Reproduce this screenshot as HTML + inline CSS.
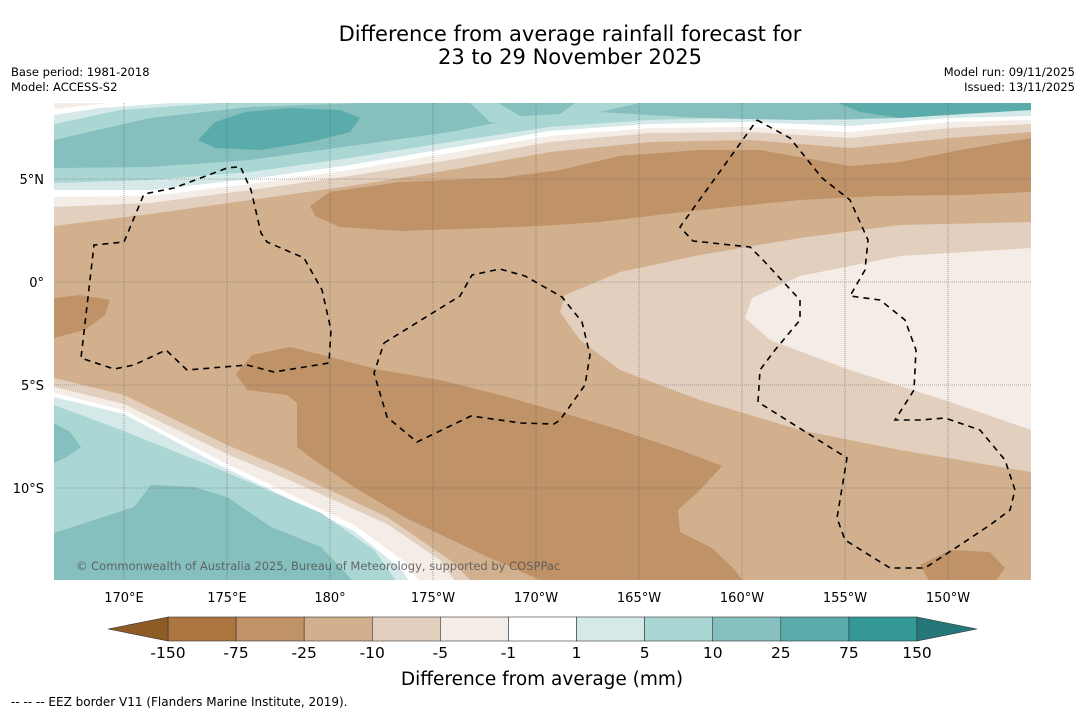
<!DOCTYPE html>
<html><head><meta charset="utf-8"><style>
html,body{margin:0;padding:0;background:#fff;}
body{width:1085px;height:713px;overflow:hidden;font-family:"DejaVu Sans","Liberation Sans",sans-serif;}
svg text{font-family:"DejaVu Sans","Liberation Sans",sans-serif;}
</style></head><body>
<svg id="fig" width="1085" height="713" viewBox="0 0 1085 713" xmlns="http://www.w3.org/2000/svg">
<text x="570" y="41" font-size="21" text-anchor="middle">Difference from average rainfall forecast for</text>
<text x="570" y="64" font-size="21" text-anchor="middle">23 to 29 November 2025</text>
<text x="11" y="76" font-size="11.5">Base period: 1981-2018</text>
<text x="11" y="91" font-size="11.5">Model: ACCESS-S2</text>
<text x="1075" y="76" font-size="11.5" text-anchor="end">Model run: 09/11/2025</text>
<text x="1075" y="91" font-size="11.5" text-anchor="end">Issued: 13/11/2025</text>

<defs><clipPath id="mapclip"><rect x="54" y="103" width="977" height="477"/></clipPath></defs>
<g id="map" clip-path="url(#mapclip)">
<rect x="54" y="103" width="977" height="477" fill="#d2b08e"/>
<path fill="#e3cfbd" d="M1031,222 L900,225 L800,238 L700,255 L620,272 L565,295 L560,312 L580,340 L620,370 L700,400 L800,430 L900,450 L1031,472 Z"/>
<path fill="#f4ece6" d="M1031,248 L900,256 L800,276 L752,298 L745,318 L770,340 L850,370 L950,402 L1031,430 Z"/>
<path fill="#bf9268" d="M310,206 L330,192 L400,182 L500,178 L560,170 L620,156 L700,150 L760,150 L850,166 L900,162 L960,150 L1031,138 L1031,192 L960,195 L880,196 L800,200 L700,210 L600,222 L540,226 L460,229 L400,231 L340,227 L315,216 Z"/>
<path fill="#bf9268" d="M236,374 L252,355 L290,347 L330,357 L380,370 L440,380 L500,395 L560,412 L620,430 L680,450 L722,466 L700,490 L678,510 L680,532 L712,548 L735,570 L742,580 L540,580 L490,558 L437,533 L404,517 L354,487 L314,460 L297,447 L297,403 L287,395 L247,390 Z"/>
<path fill="#bf9268" d="M54,298 L80,295 L110,300 L105,315 L85,330 L54,338 Z"/>
<path fill="#bf9268" d="M920,565 L950,550 L990,552 L1005,568 L995,582 L930,582 Z"/>
<path fill="#e3cfbd" d="M54,103 L1031,103 L1031,132 L950,138 L850,148 L750,140 L650,142 L550,152 L450,170 L350,186 L250,200 L150,214 L54,226 Z"/>
<path fill="#f4ece6" d="M54,103 L1031,103 L1031,124 L950,128 L850,138 L750,132 L650,133 L550,142 L450,160 L350,176 L250,190 L150,203 L54,207 Z"/>
<path fill="#ffffff" d="M54,103 L1031,103 L1031,120 L950,122 L850,132 L750,127 L650,128 L550,136 L450,153 L350,170 L250,184 L150,196 L54,197 Z"/>
<path fill="#d5eae8" d="M54,103 L1031,103 L1031,116 L950,118 L850,126 L750,122 L650,124 L550,131 L450,148 L350,165 L250,179 L150,190 L54,190 Z"/>
<path fill="#aad6d4" d="M54,103 L1031,103 L1031,110 L950,112 L850,120 L750,117 L650,120 L550,127 L450,142 L350,158 L250,172 L150,180 L54,183 Z"/>
<path fill="#85bfbe" d="M54,103 L530,103 L530,103 L500,122 L450,132 L350,146 L250,160 L150,167 L54,168 Z M560,103 L1031,103 L1031,110 L900,118 L800,120 L700,118 L600,112 Z"/>
<path fill="#aad6d4" d="M54,103 L360,103 L250,107 L150,118 L54,140 Z"/>
<path fill="#d5eae8" d="M54,103 L220,103 L120,110 L54,124 Z"/>
<path fill="#ffffff" d="M54,103 L170,103 L100,108 L54,115 Z"/>
<path fill="#f4ece6" d="M54,103 L110,103 L54,109 Z"/>
<path fill="#aad6d4" d="M470,103 L640,103 L600,112 L560,118 L520,125 L490,122 Z"/>
<path fill="#5aacab" d="M198,140 L215,122 L245,112 L290,108 L340,110 L360,118 L350,132 L310,142 L260,150 L215,148 Z"/>
<path fill="#5aacab" d="M838,103 L1031,103 L1031,110 L960,114 L900,118 L860,112 Z"/>
<path fill="#85bfbe" d="M498,103 L575,103 L560,114 L520,116 Z"/>
<path fill="#e3cfbd" d="M54,378 L124,395 L227,445 L287,470 L387,517 L454,563 L472,582 L54,582 Z"/>
<path fill="#f4ece6" d="M54,387 L124,404 L227,454 L287,479 L387,524 L440,560 L456,582 L54,582 Z"/>
<path fill="#ffffff" d="M54,393 L124,410 L221,461 L271,485 L354,525 L404,561 L420,582 L54,582 Z"/>
<path fill="#d5eae8" d="M54,397 L124,414 L221,466 L271,490 L354,531 L400,568 L410,582 L54,582 Z"/>
<path fill="#aad6d4" d="M54,405 L121,430 L221,470 L321,513 L374,550 L397,582 L54,582 Z"/>
<path fill="#85bfbe" d="M54,423 L70,432 L81,447 L65,458 L54,463 Z"/>
<path fill="#85bfbe" d="M54,533 L134,507 L151,485 L194,487 L227,497 L271,527 L321,547 L354,582 L54,582 Z"/>
<g id="grid" stroke="#666" stroke-width="0.6" stroke-dasharray="1,1" fill="none"></g>
<g fill="none" stroke="#000" stroke-width="1.6" stroke-dasharray="6,5">
<path d="M237,167 L227,168 L174,188 L144,194 L124,242 L94,245 L81,358 L114,369 L134,365 L166,350 L187,370 L247,365 L274,372 L329,363 L331,330 L322,290 L304,258 L267,242 L261,233 L251,190 L241,168"/>
<path d="M384,343 L460,296 L472,275 L500,269 L525,276 L562,297 L582,322 L590,355 L585,385 L560,420 L554,424 L521,423 L471,416 L417,442 L387,417 L374,373 L384,343"/>
<path d="M757,120 L790,138 L822,178 L850,200 L868,240 L865,270 L850,296 L880,300 L905,320 L916,350 L914,390 L895,420 L920,420 L945,418 L980,430 L1005,460 L1015,490 L1010,510 L990,525 L960,545 L925,568 L890,568 L845,540 L837,518 L847,458 L758,402 L760,370 L775,350 L800,320 L800,300 L763,260 L750,247 L693,241 L680,227 L757,120"/>
</g>
<text x="76" y="570" font-size="11.5" fill="#555" fill-opacity="0.85">© Commonwealth of Australia 2025, Bureau of Meteorology, supported by COSPPac</text>
</g>
<g id="axes" font-size="13"></g>
<g id="cbar"></g>
<text x="542" y="685" font-size="18.5" text-anchor="middle">Difference from average (mm)</text>
<text x="11" y="706" font-size="12">--  --  -- EEZ border V11 (Flanders Marine Institute, 2019).</text>
</svg>
<script>
const NS="http://www.w3.org/2000/svg";
const lonLabels=["170°E","175°E","180°","175°W","170°W","165°W","160°W","155°W","150°W"];
const lonValues=[170,175,180,185,190,195,200,205,210];
const latLabels=["5°N","0°","5°S","10°S"];
const latValues=[5,0,-5,-10];
const levelLabels=["-150","-75","-25","-10","-5","-1","1","5","10","25","75","150"];
const levelColors=["#ad7640","#bf9268","#d2b08e","#e3cfbd","#f4ece6","#ffffff","#d5eae8","#aad6d4","#85bfbe","#5aacab","#339896"];
const extendColors=["#8e5a26","#26777a"];
function xLon(l){return 124+(l-170)*20.6;}
function yLat(l){return 282-l*20.6;}
const grid=document.getElementById('grid'),axes=document.getElementById('axes');
lonValues.forEach((v,i)=>{
 const ln=document.createElementNS(NS,'line');
 
 
 ln.setAttribute('x1',xLon(v));ln.setAttribute('x2',xLon(v));ln.setAttribute('y1',103);ln.setAttribute('y2',580);
 grid.appendChild(ln);
 const t=document.createElementNS(NS,'text');
 
 
 t.setAttribute('x',xLon(v));t.setAttribute('y',602);t.setAttribute('text-anchor','middle');
 t.textContent=lonLabels[i];axes.appendChild(t);
});
latValues.forEach((v,i)=>{
 const ln=document.createElementNS(NS,'line');
 
 
 ln.setAttribute('x1',54);ln.setAttribute('x2',1031);ln.setAttribute('y1',yLat(v));ln.setAttribute('y2',yLat(v));
 grid.appendChild(ln);
 const t=document.createElementNS(NS,'text');
 
 
 t.setAttribute('x',44);t.setAttribute('y',yLat(v)+5);t.setAttribute('text-anchor','end');
 t.textContent=latLabels[i];axes.appendChild(t);
});
const cb=document.getElementById('cbar');
const x0=168,x1=917,y0=617,h=24,bw=(x1-x0)/levelColors.length;
levelColors.forEach((c,i)=>{
 const r=document.createElementNS(NS,'rect');
 
 
 r.setAttribute('x',x0+i*bw);r.setAttribute('y',y0);r.setAttribute('width',bw);r.setAttribute('height',h);
 r.setAttribute('fill',c);r.setAttribute('stroke','#333');r.setAttribute('stroke-width','0.6');
 cb.appendChild(r);
});
const tl=document.createElementNS(NS,'polygon');


tl.setAttribute('points',`${x0},${y0} ${x0-60},${y0+h/2} ${x0},${y0+h}`);tl.setAttribute('fill',extendColors[0]);tl.setAttribute('stroke','#333');tl.setAttribute('stroke-width','0.6');
cb.appendChild(tl);
const tr=document.createElementNS(NS,'polygon');


tr.setAttribute('points',`${x1},${y0} ${x1+60},${y0+h/2} ${x1},${y0+h}`);tr.setAttribute('fill',extendColors[1]);tr.setAttribute('stroke','#333');tr.setAttribute('stroke-width','0.6');
cb.appendChild(tr);
levelLabels.forEach((s,i)=>{
 const t=document.createElementNS(NS,'text');
 
 
 t.setAttribute('x',x0+i*bw);t.setAttribute('y',658);t.setAttribute('text-anchor','middle');t.setAttribute('font-size','15.5');
 t.textContent=s;cb.appendChild(t);
});
</script>
</body></html>
